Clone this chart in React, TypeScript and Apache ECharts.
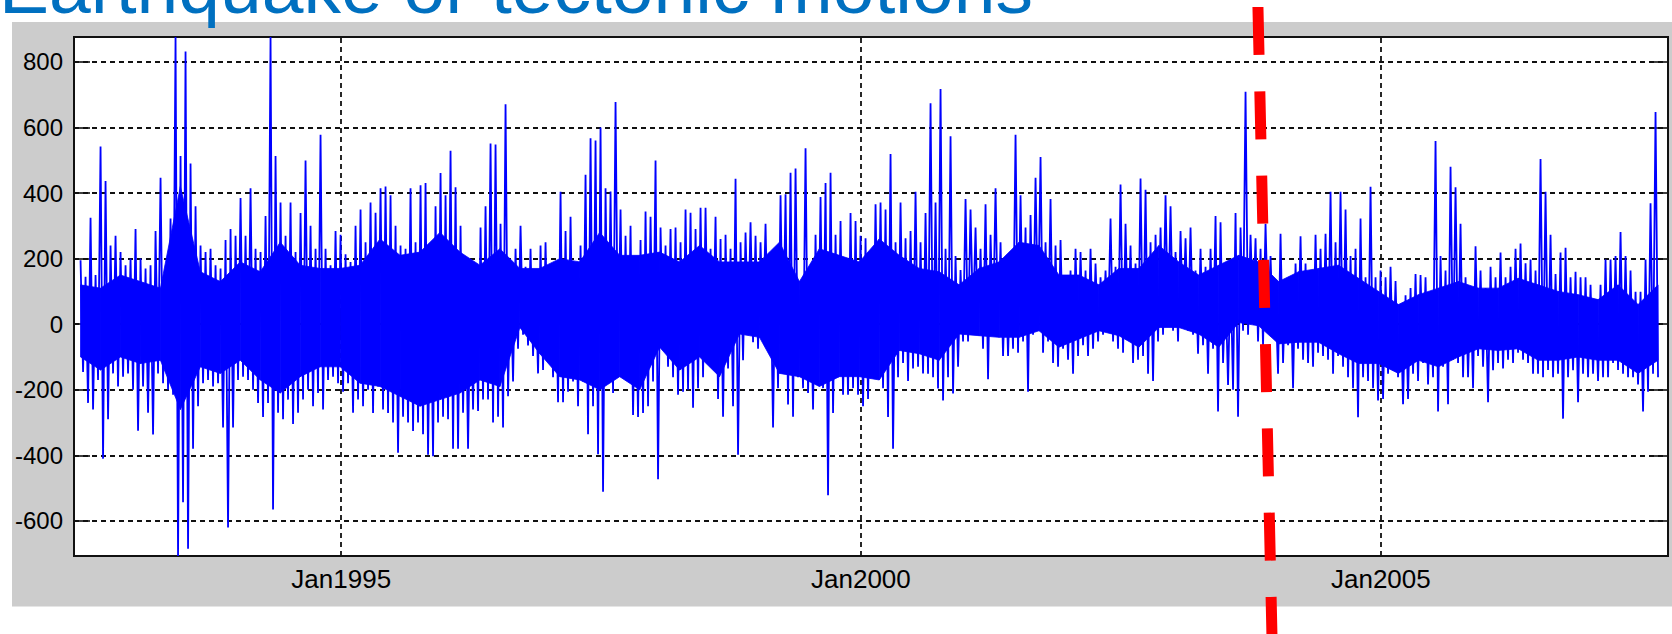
import React, { useEffect, useRef } from 'react';
import * as echarts from 'echarts';

const FONT = '"Liberation Sans", Arial, Helvetica, sans-serif';
const titleText = 'Earthquake or tectonic motions';

// Axis window and tick positions
const xAxisStart = '1992-06-06';
const xAxisEnd = '2007-10-07';
const xTickDates = ['1995-01-01', '2000-01-01', '2005-01-01'];
const yMin = -707;
const yMax = 876;
const yTicks = [-600, -400, -200, 0, 200, 400, 600, 800];

// First and last sample of the record
const dataStart = '1992-06-29';
const dataEnd = '2007-09-02';

// Date of the red dashed marker
const markerDate = '2003-11-21';

const m1992to1994 = [
  195, -146, 145, -240, 325, -260, 150, -170, 542, -410, 437, -290, 240, -150, 270, -190, 220, -160, 180, -150,
  200, -200, 290, -325, 200, -190, 170, -270, 180, -336, 284, -150, 447, -180, 170, -200, 322, -215, 876, -707,
  513, -543, 832, -685, 490, -380, 360, -250, 240, -180, 220, -170, 230, -190, 180, -180, 170, -315, 257, -620,
  290, -315, 270, -170, 385, -160, 270, -170, 415, -200, 230, -240, 220, -283, 330, -240, 876, -565, 513, -270,
  371, -290, 270, -230, 371, -304, 220, -270, 339, -230, 499, -200, 300, -250, 230, -210, 578, -260, 230, -170,
  180, -160, 284, -180,
];
const m1995to1997 = [
  273, -206, 213, -180, 190, -270, 300, -230, 350, -250, 250, -200, 371, -271, 340, -190, 415, -260, 420, -271,
  393, -300, 300, -392, 240, -282, 230, -300, 415, -326, 250, -300, 424, -336, 431, -398, 185, -403, 360, -300,
  461, -282, 393, -290, 529, -380, 418, -380, 300, -270, 153, -380, 120, -260, 175, -265, 295, -230, 360, -230,
  551, -300, 548, -282, 306, -315, 671, -220, 150, -175, 230, -75, 300, -32, 175, -65, 230, -97, 130, -150,
  240, -140, 250, -110, 165, -162, 185, -238, 404, -238, 284, -206, 328, -175, 164, -250, 240, -175, 456, -336,
  567, -250, 560, -397, 600, -511, 415, -180, 405, -210, 678, -130,
];
const m1997to2000 = [
  350, -160, 270, -162, 300, -277, 164, -283, 257, -271, 344, -250, 328, -175, 499, -473, 295, -53, 240, -130,
  290, -162, 295, -215, 250, -206, 350, -200, 340, -255, 290, -195, 355, -162, 355, -108, 230, -87, 328, -228,
  260, -282, 273, -135, 230, -250, 444, -398, 250, -110, 280, -32, 311, -55, 270, -75, 250, -4, 306, -75,
  176, -315, 220, -195, 393, -108, 396, -245, 462, -282, 475, -162, 105, -195, 537, -210, 120, -260, 273, -162,
  388, -195, 431, -522, 462, -271, 273, -162, 315, -215, 180, -215, 339, -195, 315, -215, 270, -250, 262, -228,
  185, -162, 366, -120, 371, -195, 350, -283, 519, -380, 250, -162,
];
const m2000to2003 = [
  371, -118, 262, -173, 284, -135, 404, -130, 250, -150, 339, -151, 674, -162, 371, -196, 717, -233, 230, -162,
  573, -211, 208, -130, 165, -53, 382, -53, 350, 10, 295, -32, 230, -75, 366, -168, 273, -20, 415, -32,
  250, -97, 175, -97, 164, -75, 578, -87, 393, -53, 295, -206, 333, -32, 447, 10, 510, -87, 250, -53,
  382, -118, 240, -130, 257, -75, 143, -108, 164, -151, 230, -97, 220, -64, 164, -97, 230, -75, 185, -53,
  143, -32, 164, -20, 322, -53, 175, -75, 426, -87, 306, -42, 240, -118, 185, -108, 444, -97, 410, -151,
  250, -173, 273, -53, 295, -32, 393, 0, 360, -20, 220, -53,
];
const m2003to2005 = [
  284, 12, 262, -20, 295, -32, 164, -90, 230, -64, 175, -151, 230, -75, 330, -266, 311, -118, 120, -185,
  164, -200, 339, -282, 295, -20, 709, -32, 273, 23, 262, -53, 230, -64, 306, 12, 208, -32, 90, -151,
  276, -118, 133, -64, 143, -195, 185, -75, 268, -108, 185, -118, 164, -130, 273, -87, 230, -97, 276, -108,
  404, -151, 250, -97, 404, -130, 350, -162, 208, -195, 230, -284, 322, -162, 143, -173, 419, -195, 143, -233,
  164, -228, 143, -151, 175, -140, 132, -162, 56, -244, 88, -228, 110, -151, 153, -173, 150, -118, 143, -184,
  99, -162, 559, -266,
];
const m2005to2007 = [
  208, -130, 164, -244, 480, -108, 418, -118, 306, -162, 143, -162, 116, -195, 238, -97, 164, -130, 110, -238,
  175, -140, 143, -118, 219, -135, 143, -108, 175, -118, 230, -87, 246, -108, 186, -118, 197, -151, 164, -151,
  504, -162, 404, -140, 273, -162, 153, -151, 219, -288, 233, -162, 143, -140, 160, -238, 143, -151, 143, -162,
  120, -151, 77, -173, 120, -162, 197, -162, 197, -118, 208, -140, 281, -151, 208, -162, 164, -162, 99, -184,
  99, -266, 197, -206, 369, -151, 647, -162,
];

// Edges of the fully solid core of the record, read every ~20 px
const coreTop = [
  120, 110, 150, 130, 110, 420, 160, 130, 190, 160, 250, 180, 170,
  170, 180, 260, 210, 220, 280, 220, 180, 230, 170, 170, 200, 190, 280,
  210, 210, 220, 190, 240, 190, 190, 190, 250, 130, 230, 210, 190, 260,
  210, 170, 160, 120, 170, 190, 250, 240, 150, 150, 120, 170, 170, 240,
  190, 150, 180, 210, 190, 130, 160, 170, 180, 140, 100, 60, 90, 110,
  130, 110, 110, 140, 120, 100, 90, 75, 120, 60, 120,
];
const coreBottom = [
  -100, -140, -100, -120, -110, -260, -130, -150, -110, -170, -210, -160, -130,
  -130, -180, -190, -220, -250, -230, -210, -170, -190, -10, -90, -160, -170, -200,
  -160, -200, -70, -140, -100, -160, -30, -40, -150, -160, -190, -160, -160, -170,
  -80, -90, -110, -30, -35, -40, -40, -20, -70, -45, -20, -35, -70, -10,
  -10, -30, -70, 5, -5, -60, -55, -55, -90, -120, -120, -150, -110, -130,
  -100, -75, -80, -75, -110, -110, -100, -110, -110, -150, -110,
];

const ts = (d: string) => Date.parse(d + 'T00:00:00Z');

const allValues = [
  ...m1992to1994,
  ...m1995to1997,
  ...m1997to2000,
  ...m2000to2003,
  ...m2003to2005,
  ...m2005to2007,
];

const t0 = ts(dataStart);
const t1 = ts(dataEnd);
const stepMs = (t1 - t0) / (allValues.length - 1);
const seriesData = allValues.map((v, i) => [t0 + i * stepMs, v]);
const coreStep = (t1 - t0) / (coreTop.length - 1);
const coreData = coreTop.map((v, i) => [t0 + i * coreStep, coreBottom[i], v]);
const xTickValues = xTickDates.map(ts);

const tickStyle = { color: '#000', width: 1.5 };

export default function App() {
  const ref = useRef<HTMLDivElement>(null);
  useEffect(() => {
    document.body.style.margin = '0';
    const el = ref.current;
    if (!el) return;
    const chart = echarts.init(el, null, { renderer: 'svg' });
    const xAxisBase = {
      type: 'value',
      min: ts(xAxisStart),
      max: ts(xAxisEnd),
      scale: true,
      axisLine: { show: false },
      splitLine: { show: false },
      minorTick: { show: false },
      axisTick: { show: true, inside: true, length: 16, lineStyle: tickStyle, customValues: xTickValues },
    };
    const yAxisBase = {
      type: 'value',
      min: yMin,
      max: yMax,
      axisLine: { show: false },
      splitLine: { show: false },
      axisTick: { show: true, inside: true, length: 16, lineStyle: tickStyle, customValues: yTicks },
    };
    chart.setOption({
      animation: false,
      backgroundColor: '#ffffff',
      textStyle: { fontFamily: FONT },
      tooltip: { show: false },
      grid: {
        left: 74,
        right: 4,
        top: 37,
        bottom: 78,
        show: true,
        backgroundColor: '#ffffff',
        borderColor: '#111',
        borderWidth: 2,
        outerBoundsMode: 'none',
        containLabel: false,
      },
      xAxis: [
        {
          ...xAxisBase,
          position: 'bottom',
          axisLabel: {
            show: true,
            customValues: xTickValues,
            formatter: (v: number) => 'Jan' + new Date(v).getUTCFullYear(),
            color: '#000',
            fontSize: 26,
            fontFamily: FONT,
            margin: 10,
            hideOverlap: false,
          },
        },
        { ...xAxisBase, position: 'top', axisLabel: { show: false } },
      ],
      yAxis: [
        {
          ...yAxisBase,
          position: 'left',
          axisLabel: {
            show: true,
            customValues: yTicks,
            color: '#000',
            fontSize: 24,
            fontFamily: FONT,
            margin: 11,
          },
        },
        { ...yAxisBase, position: 'right', axisLabel: { show: false } },
      ],
      series: [
        {
          type: 'line',
          name: 'gridlines',
          data: [],
          xAxisIndex: 0,
          yAxisIndex: 0,
          silent: true,
          z: 1,
          markLine: {
            silent: true,
            z: 1,
            symbol: ['none', 'none'],
            label: { show: false },
            emphasis: { disabled: true },
            lineStyle: { color: '#111', width: 1.8, type: [5, 4] },
            data: [
              ...yTicks.map((v) => ({ yAxis: v })),
              ...xTickValues.map((v) => ({ xAxis: v })),
            ],
          },
        },
        {
          type: 'custom',
          name: 'core',
          coordinateSystem: 'cartesian2d',
          xAxisIndex: 0,
          yAxisIndex: 0,
          data: coreData,
          encode: { x: 0, y: [1, 2] },
          silent: true,
          clip: true,
          z: 2,
          renderItem: (params: any, api: any) => {
            const i = params.dataIndex;
            if (i >= coreData.length - 1) return null;
            const a = coreData[i];
            const b = coreData[i + 1];
            const points = [
              api.coord([a[0], a[2]]),
              api.coord([b[0], b[2]]),
              api.coord([b[0], b[1]]),
              api.coord([a[0], a[1]]),
            ];
            return {
              type: 'polygon',
              shape: { points },
              style: { fill: '#0000ff', stroke: '#0000ff', lineWidth: 0.8 },
            };
          },
        },
        {
          type: 'line',
          name: 'motion',
          data: seriesData,
          xAxisIndex: 0,
          yAxisIndex: 0,
          showSymbol: false,
          symbol: 'none',
          silent: true,
          z: 3,
          lineStyle: { color: '#0000ff', width: 1.8 },
        },
      ],
    });

    const xm = chart.convertToPixel({ xAxisIndex: 0 }, ts(markerDate)) as number;
    const ym = chart.convertToPixel({ yAxisIndex: 0 }, 0) as number;
    const lean = 0.0223;
    const yTop = 7;
    const yBottom = 645;

    chart.setOption({
      graphic: [
        {
          id: 'panel',
          type: 'rect',
          z: -10,
          silent: true,
          shape: { x: 12, y: 22, width: 1660, height: 584.5 },
          style: { fill: '#cccccc' },
        },
        {
          id: 'title',
          type: 'text',
          z: 20,
          silent: true,
          style: {
            text: titleText,
            x: -1,
            y: -13,
            font: '75px ' + FONT,
            fill: '#0070C0',
            textAlign: 'left',
            textVerticalAlign: 'middle',
            align: 'left',
            verticalAlign: 'middle',
          },
        },
        {
          id: 'marker',
          type: 'line',
          z: 50,
          silent: true,
          shape: {
            x1: xm - lean * (ym - yTop),
            y1: yTop,
            x2: xm + lean * (yBottom - ym),
            y2: yBottom,
          },
          style: { stroke: '#ff0000', lineWidth: 11, lineDash: [48, 36.3], lineCap: 'butt' },
        },
      ],
    });

    return () => chart.dispose();
  }, []);

  return (
    <div style={{ position: 'fixed', left: 0, top: 0, width: 1672, height: 634, background: '#ffffff' }}>
      <div ref={ref} style={{ width: 1672, height: 634 }} />
    </div>
  );
}
